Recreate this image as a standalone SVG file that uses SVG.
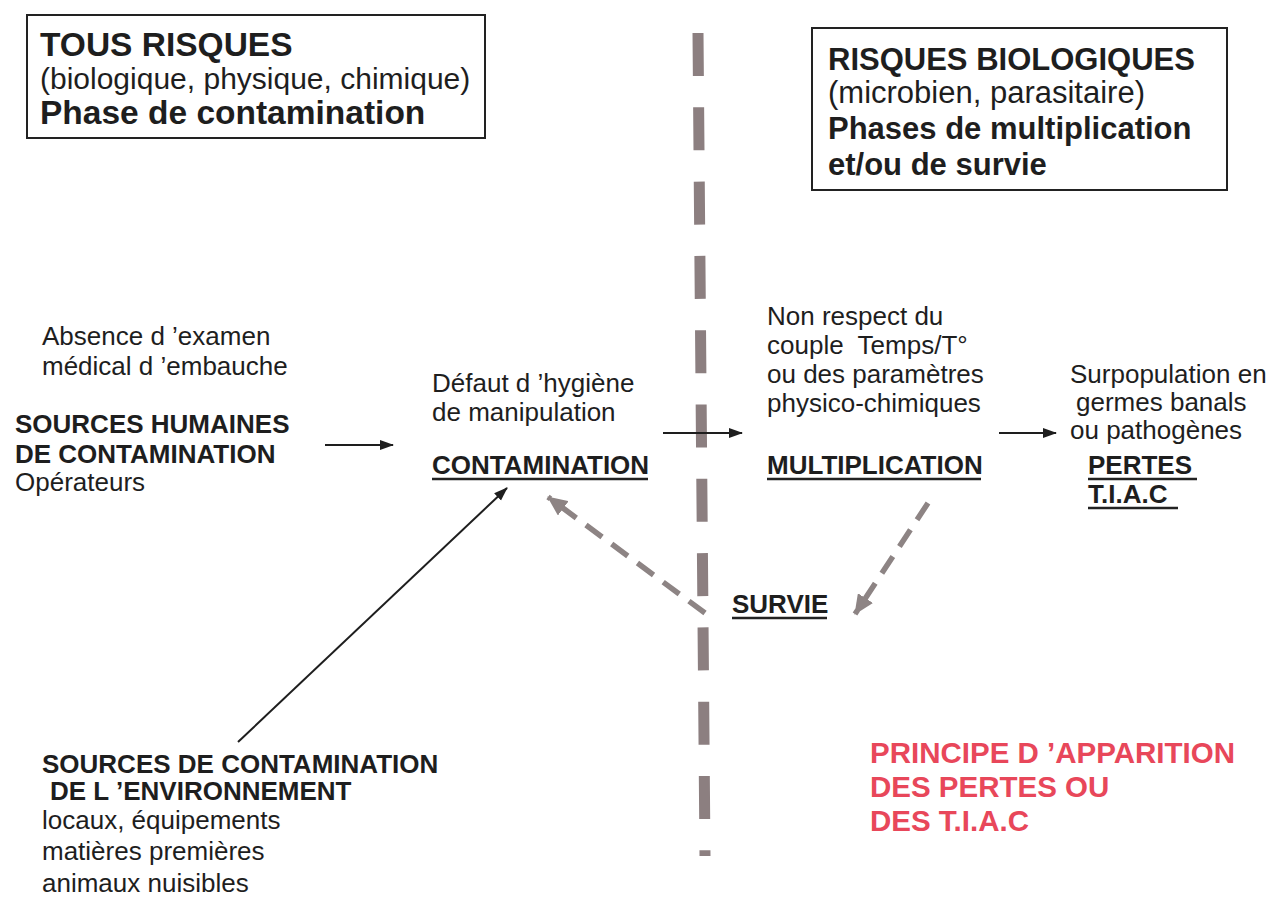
<svg xmlns="http://www.w3.org/2000/svg" width="1280" height="898" viewBox="0 0 1280 898">
<style>
text{font-family:"Liberation Sans",Arial,sans-serif;fill:#1e1e1e}
.b{font-weight:bold}
.big{font-size:33.5px}
.mid{font-size:30px}
.m2{font-size:31px}
.s{font-size:26px}
.sb{font-size:26px;font-weight:bold}
.red{font-size:29.5px;font-weight:bold;fill:#e8475a}
.box{fill:none;stroke:#222;stroke-width:2}
.ul{stroke:#222;stroke-width:2.5}
.arr{stroke:#1e1e1e;stroke-width:2;fill:none}
.darr{stroke:#8d8484;stroke-width:5.5;fill:none;stroke-dasharray:20 12}
</style>
<defs>
<marker id="ah" markerUnits="userSpaceOnUse" markerWidth="14" markerHeight="12" refX="13" refY="6" orient="auto">
<path d="M0,1 L14,6 L0,11 Z" fill="#1e1e1e"/>
</marker>
<marker id="gh" markerUnits="userSpaceOnUse" markerWidth="20" markerHeight="18" refX="19" refY="9" orient="auto">
<path d="M0,0 L20,9 L0,18 Z" fill="#8d8484"/>
</marker>
</defs>
<rect width="1280" height="898" fill="#ffffff"/>

<g id="divider">
<line x1="698" y1="33" x2="705" y2="856" stroke="#8c7f80" stroke-width="11" stroke-dasharray="43 31.3"/>
</g>

<g id="box-tous-risques">
<rect class="box" x="27" y="15" width="458" height="123"/>
<text class="b big" x="40" y="56">TOUS RISQUES</text>
<text class="mid" x="40" y="89">(biologique, physique, chimique)</text>
<text class="b big" x="40" y="124">Phase de contamination</text>
</g>

<g id="box-risques-bio">
<rect class="box" x="812" y="28" width="415" height="162"/>
<text class="b m2" x="828" y="70">RISQUES BIOLOGIQUES</text>
<text class="m2" x="828" y="103">(microbien, parasitaire)</text>
<text class="b m2" x="828" y="139">Phases de multiplication</text>
<text class="b m2" x="828" y="175">et/ou de survie</text>
</g>

<g id="node-sources-humaines">
<text class="s" x="42" y="345">Absence d ’examen</text>
<text class="s" x="42" y="375">médical d ’embauche</text>
<text class="sb" x="15" y="433">SOURCES HUMAINES</text>
<text class="sb" x="15" y="463">DE CONTAMINATION</text>
<text class="s" x="15" y="491">Opérateurs</text>
</g>

<g id="node-contamination">
<text class="s" x="432" y="392">Défaut d ’hygiène</text>
<text class="s" x="432" y="421">de manipulation</text>
<text class="sb" x="432" y="474">CONTAMINATION</text>
<line class="ul" x1="432" y1="479" x2="648" y2="479"/>
</g>

<g id="node-multiplication">
<text class="s" x="767" y="325">Non respect du</text>
<text class="s" x="767" y="354" xml:space="preserve">couple  Temps/T°</text>
<text class="s" x="767" y="383">ou des paramètres</text>
<text class="s" x="767" y="412">physico-chimiques</text>
<text class="sb" x="767" y="474">MULTIPLICATION</text>
<line class="ul" x1="767" y1="479" x2="981" y2="479"/>
</g>

<g id="node-pertes">
<text class="s" x="1070" y="383">Surpopulation en</text>
<text class="s" x="1076" y="411">germes banals</text>
<text class="s" x="1070" y="439">ou pathogènes</text>
<text class="sb" x="1088" y="474">PERTES</text>
<line class="ul" x1="1088" y1="479" x2="1197" y2="479"/>
<text class="sb" x="1088" y="503">T.I.A.C</text>
<line class="ul" x1="1088" y1="508" x2="1178" y2="508"/>
</g>

<g id="node-survie">
<text class="sb" x="732" y="613">SURVIE</text>
<line class="ul" x1="732" y1="618" x2="827" y2="618"/>
</g>

<g id="node-sources-env">
<text class="sb" x="42" y="773">SOURCES DE CONTAMINATION</text>
<text class="sb" x="50" y="800">DE L ’ENVIRONNEMENT</text>
<text class="s" x="42" y="829">locaux, équipements</text>
<text class="s" x="42" y="860">matières premières</text>
<text class="s" x="42" y="892">animaux nuisibles</text>
</g>

<g id="title-principe">
<text class="red" x="870" y="763">PRINCIPE D ’APPARITION</text>
<text class="red" x="870" y="797">DES PERTES OU</text>
<text class="red" x="870" y="831">DES T.I.A.C</text>
</g>

<g id="connectors">
<line class="arr" x1="325" y1="445" x2="393" y2="445" marker-end="url(#ah)"/>
<line class="arr" x1="663" y1="433" x2="742" y2="433" marker-end="url(#ah)"/>
<line class="arr" x1="999" y1="433" x2="1056" y2="433" marker-end="url(#ah)"/>
<line class="arr" x1="238" y1="742" x2="507" y2="488" marker-end="url(#ah)"/>
<line class="darr" x1="705" y1="613" x2="548" y2="497" marker-end="url(#gh)"/>
<line class="darr" x1="928" y1="503" x2="855" y2="614" marker-end="url(#gh)"/>
</g>
</svg>
